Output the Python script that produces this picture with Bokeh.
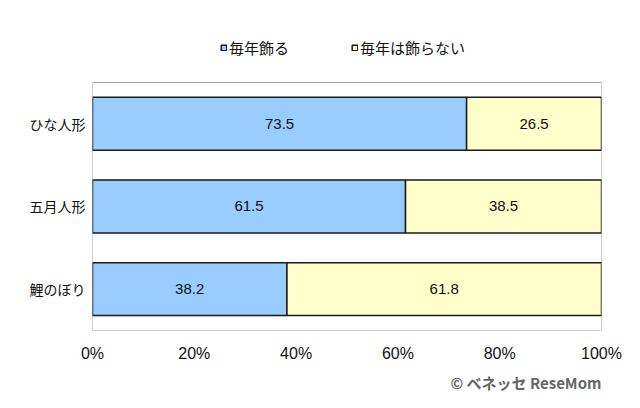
from bokeh.plotting import figure
from bokeh.models import (ColumnDataSource, Legend, LegendItem, FixedTicker, LabelSet,
                          CustomJSTickFormatter, Title, Range1d)
from bokeh.core.properties import value
from bokeh.embed import file_html
from bokeh.resources import INLINE

categories = ["ひな人形", "五月人形", "鯉のぼり"]
every_year = [73.5, 61.5, 38.2]
not_every_year = [26.5, 38.5, 61.8]
series_names = ["毎年飾る", "毎年は飾らない"]
tick_values = [0, 20, 40, 60, 80, 100]
credit = "© ベネッセ ReseMom"

FONT = "Noto Sans CJK JP"
NUMFONT = "Liberation Sans"
BLUE = "#99CCFF"
YELLOW = "#FFFFCC"
EDGE = "#1a1a1a"

n = len(categories)
ypos = [n - 1 - i for i in range(n)]  # first category at top
src = ColumnDataSource(dict(
    y=ypos,
    a_end=every_year,
    b_end=[x + y for x, y in zip(every_year, not_every_year)],
    a_mid=[x / 2 for x in every_year],
    b_mid=[x + y / 2 for x, y in zip(every_year, not_every_year)],
    a_lab=[f"{v:.1f}" for v in every_year],
    b_lab=[f"{v:.1f}" for v in not_every_year],
))

p = figure(width=640, height=408, x_range=Range1d(tick_values[0], tick_values[-1]),
           y_range=Range1d(-0.5, n - 0.5 + 0.99),
           output_backend="svg", toolbar_location=None,
           min_border_left=92, min_border_right=39, min_border_top=0, min_border_bottom=78)

# plot-area frame (grey box around the bars)
p.quad(left=tick_values[0], right=tick_values[-1], bottom=-0.5, top=n - 0.5,
       fill_color=None, line_color="#A0A0A0", line_width=1)

r1 = p.hbar(y="y", left=0, right="a_end", height=0.64, source=src,
            fill_color=BLUE, line_color=EDGE, line_width=1.5)
r2 = p.hbar(y="y", left="a_end", right="b_end", height=0.64, source=src,
            fill_color=YELLOW, line_color=EDGE, line_width=1.5)

for xcol, lcol in (("a_mid", "a_lab"), ("b_mid", "b_lab")):
    p.add_layout(LabelSet(x=xcol, y="y", text=lcol, source=src,
                          text_align="center", text_baseline="middle",
                          text_font=value(NUMFONT), text_font_size="15px", text_color="#111111"))

legend = Legend(items=[LegendItem(label=series_names[0], renderers=[r1]),
                       LegendItem(label=series_names[1], renderers=[r2])],
                orientation="horizontal", location=(128, 272),
                glyph_width=7, glyph_height=7, spacing=62, padding=0, margin=0,
                label_text_font=FONT, label_text_font_size="15px", label_text_color="#111111",
                label_standoff=2, border_line_color=None, background_fill_alpha=0)
p.add_layout(legend, "center")

p.xaxis.ticker = FixedTicker(ticks=tick_values)
p.xaxis.formatter = CustomJSTickFormatter(code="return tick + '%'")
p.xaxis.axis_line_color = None
p.xaxis.major_tick_line_color = None
p.xaxis.minor_tick_line_color = None
p.xaxis.major_tick_out = 0
p.xaxis.major_tick_in = 0
p.xaxis.major_label_standoff = 14
p.xaxis.major_label_text_font = NUMFONT
p.xaxis.major_label_text_font_size = "16px"
p.xaxis.major_label_text_color = "#111111"

p.yaxis.ticker = FixedTicker(ticks=ypos)
p.yaxis.major_label_overrides = {yv: c for yv, c in zip(ypos, categories)}
p.yaxis.axis_line_color = None
p.yaxis.major_tick_line_color = None
p.yaxis.minor_tick_line_color = None
p.yaxis.major_tick_out = 0
p.yaxis.major_tick_in = 0
p.yaxis.major_label_standoff = 7
p.yaxis.major_label_text_font = FONT
p.yaxis.major_label_text_font_size = "14px"
p.yaxis.major_label_text_color = "#111111"

p.grid.visible = False
p.outline_line_color = None

p.add_layout(Title(text=credit, align="right", text_font=FONT, text_font_size="15px",
                   text_font_style="bold", text_color="#666666", offset=0), "below")

open("out.html", "w").write(file_html(p, INLINE))
